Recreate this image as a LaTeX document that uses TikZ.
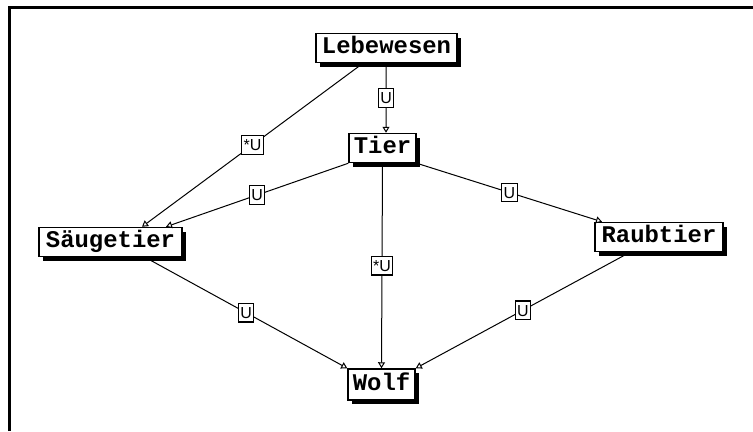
\documentclass[tikz,border=0pt]{standalone}
\usepackage{fontspec}
\newfontfamily\boxfont{Liberation Mono}
\newfontfamily\labfont{Liberation Sans}
\usetikzlibrary{arrows.meta,shadows}
\begin{document}
\begin{tikzpicture}[x=1bp,y=-1bp,
  concept/.style={draw,line width=1.5bp,fill=white,
    font=\boxfont\bfseries\fontsize{24}{24}\selectfont,
    inner xsep=3bp,inner ysep=0pt,text height=15.5bp,text depth=4bp,
    minimum height=29bp,
    drop shadow={shadow xshift=4bp,shadow yshift=-4bp,fill=black,opacity=1}},
  rel/.style={draw,line width=1bp,-{Triangle[open,length=6bp,width=7bp]}},
  lab/.style={draw,line width=1.2bp,fill=white,
    font=\labfont\fontsize{16}{16}\selectfont,
    inner xsep=2bp,inner ysep=3.5bp,text height=11.5bp,text depth=0pt}]
\useasboundingbox (0,0) rectangle (753,431);
\fill[white] (0,0) rectangle (753,431);
\draw[line width=3bp] (9,431) -- (9,7) -- (753,7);

\node[concept,minimum width=141bp] (leb) at (386.5,48) {Lebewesen};
\node[concept,minimum width=67bp] (tier) at (382.5,148) {Tier};
\node[concept,minimum width=143bp] (saeug) at (110.5,242) {Säugetier};
\node[concept,minimum width=128bp] (raub) at (659,237) {Raubtier};
\node[concept,minimum width=67bp,minimum height=31bp] (wolf) at (381.5,384.5) {Wolf};

\draw[rel] ([xshift=-0.5bp]leb.south) -- node[lab]{U} ([xshift=3.5bp]tier.north);
\draw[rel] ([xshift=-23.5bp]leb.south) -- node[lab]{*U} ([xshift=31.5bp]saeug.north);
\draw[rel] (tier.south west) -- node[lab]{U} ([xshift=55.5bp]saeug.north);
\draw[rel] (tier.south east) -- node[lab]{U} ([xshift=-57bp]raub.north);
\draw[rel] (tier.south) -- node[lab]{*U} (wolf.north);
\draw[rel] ([xshift=34.5bp]saeug.south) -- node[lab]{U} (wolf.north west);
\draw[rel] ([xshift=-29bp]raub.south) -- node[lab]{U} (wolf.north east);
\end{tikzpicture}
\end{document}
